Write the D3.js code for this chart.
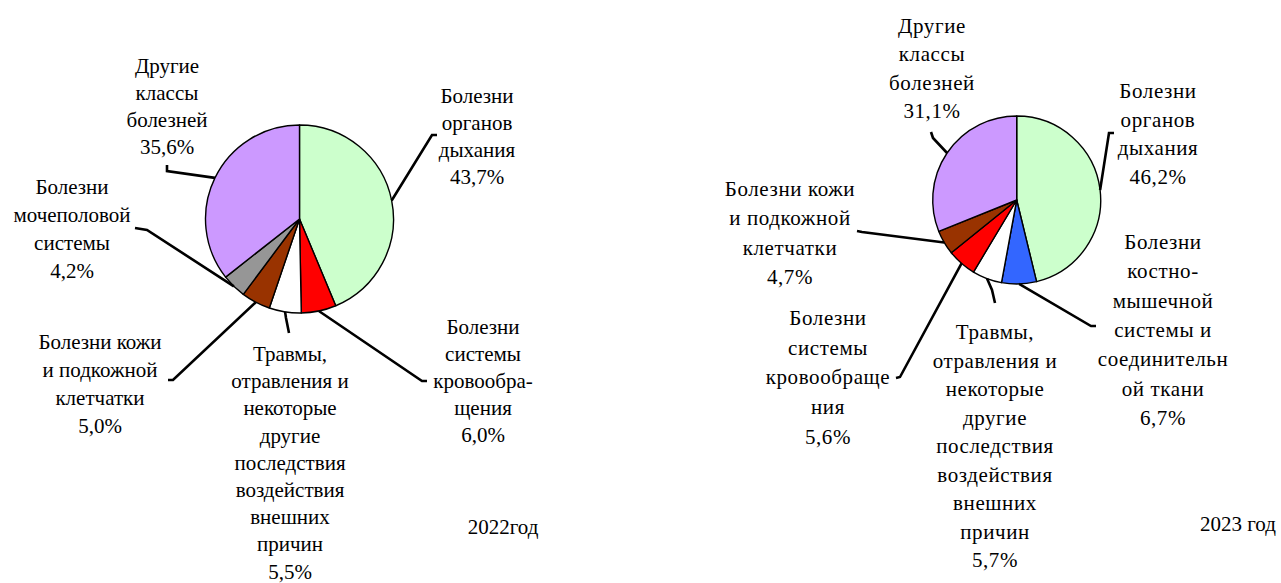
<!DOCTYPE html>
<html><head><meta charset="utf-8">
<script src="https://cdn.jsdelivr.net/npm/d3@7"></script>
<style>body{margin:0;background:#fff}svg{display:block}</style>
</head><body>
<script>
// ---- data ----
const categories2022 = ["Болезни органов дыхания","Болезни системы кровообращения","Травмы, отравления и некоторые другие последствия воздействия внешних причин","Болезни кожи и подкожной клетчатки","Болезни мочеполовой системы","Другие классы болезней"];
const values2022 = [43.7, 6.0, 5.5, 5.0, 4.2, 35.6];
const labels2022 = [
  ["Болезни","органов","дыхания","43,7%"],
  ["Болезни","системы","кровообра-","щения","6,0%"],
  ["Травмы,","отравления и","некоторые","другие","последствия","воздействия","внешних","причин","5,5%"],
  ["Болезни кожи","и подкожной","клетчатки","5,0%"],
  ["Болезни","мочеполовой","системы","4,2%"],
  ["Другие","классы","болезней","35,6%"]
];
const categories2023 = ["Болезни органов дыхания","Болезни костно-мышечной системы и соединительной ткани","Травмы, отравления и некоторые другие последствия воздействия внешних причин","Болезни системы кровообращения","Болезни кожи и подкожной клетчатки","Другие классы болезней"];
const values2023 = [46.2, 6.7, 5.7, 5.6, 4.7, 31.1];
const labels2023 = [
  ["Болезни","органов","дыхания","46,2%"],
  ["Болезни","костно-","мышечной","системы и","соединительн","ой ткани","6,7%"],
  ["Травмы,","отравления и","некоторые","другие","последствия","воздействия","внешних","причин","5,7%"],
  ["Болезни","системы","кровообраще","ния","5,6%"],
  ["Болезни кожи","и подкожной","клетчатки","4,7%"],
  ["Другие","классы","болезней","31,1%"]
];
const colors2022 = ["#CCFFCC","#FF0000","#FFFFFF","#993300","#969696","#CC99FF"];
const colors2023 = ["#CCFFCC","#3366FF","#FFFFFF","#FF0000","#993300","#CC99FF"];
const years = ["2022год","2023 год"];

// ---- layout (positions, not data) ----
const FONT = "'Times New Roman', serif";
const charts = [
  {values: values2022, labels: labels2022, colors: colors2022, cx: 299.5, cy: 219, r: 94,
   title: {x: 503, y: 534}, ls: 0,
   lab: [ // label center x, first baseline, line height, elbow, end
     {x:477, y:103, lh:27, e:[432,135], t:[437,135]},
     {x:483, y:334, lh:27, e:[422,381], t:[427,381]},
     {x:290, y:361, lh:27.2, e:[286,318], t:[289,333]},
     {x:100, y:349, lh:28, e:[173,380], t:[168,380]},
     {x:72,  y:194, lh:28, e:[147,230], t:[135,228]},
     {x:167, y:73,  lh:27, e:[167,171], t:[167,165]}
   ]},
  {values: values2023, labels: labels2023, colors: colors2023, cx: 1016.7, cy: 200, r: 84,
   title: {x: 1238, y: 531}, ls: 0.6,
   lab: [
     {x:1158, y:98,  lh:28.5, e:[1109,133], t:[1114,133]},
     {x:1163, y:249, lh:29.3, e:[1091,326], t:[1096,326]},
     {x:995,  y:339, lh:28.5, e:[992,290], t:[995,303]},
     {x:828,  y:325, lh:29.7, e:[900,377], t:[896,378]},
     {x:790,  y:196, lh:29.3, e:[862,232], t:[857,231]},
     {x:932,  y:33,  lh:28.3, e:[933,138], t:[931,132]}
   ]}
];

const W = 1281, H = 583;
const svg = d3.select("body").append("svg").attr("width", W).attr("height", H);

charts.forEach((c, ci) => {
  const pie = d3.pie().sort(null).value(d => d)(c.values);
  const arc = d3.arc().innerRadius(0).outerRadius(c.r);
  const g = svg.append("g").attr("transform", `translate(${c.cx},${c.cy})`);
  g.selectAll("path.slice").data(pie).join("path")
    .attr("class","slice")
    .attr("d", arc)
    .attr("fill", (d,i) => c.colors[i])
    .attr("stroke", "#000").attr("stroke-width", 1.4).attr("stroke-linejoin","round");

  // leader lines
  const line = d3.line();
  pie.forEach((d, i) => {
    const a = (d.startAngle + d.endAngle) / 2;
    const sx = c.cx + c.r * Math.sin(a), sy = c.cy - c.r * Math.cos(a);
    const L = c.lab[i];
    svg.append("path")
      .attr("d", line([[sx, sy], L.e, L.t]))
      .attr("fill","none").attr("stroke","#000").attr("stroke-width",2.6)
      .attr("stroke-linejoin","miter");
  });

  // labels: one text element per line
  c.labels.forEach((lines, i) => {
    const L = c.lab[i];
    lines.forEach((s, k) => {
      const t = svg.append("text").attr("text-anchor","middle")
        .attr("x", L.x).attr("y", L.y + k * L.lh)
        .style("font-family", FONT).style("font-size", "21px").attr("fill","#000")
        .text(s);
      if (c.ls) t.style("letter-spacing", c.ls + "px");
    });
  });

  svg.append("text").attr("x", c.title.x).attr("y", c.title.y)
    .style("font-family", FONT).style("font-size", "21px").attr("fill","#000")
    .attr("text-anchor","middle").text(years[ci]);
});
</script>
</body></html>
